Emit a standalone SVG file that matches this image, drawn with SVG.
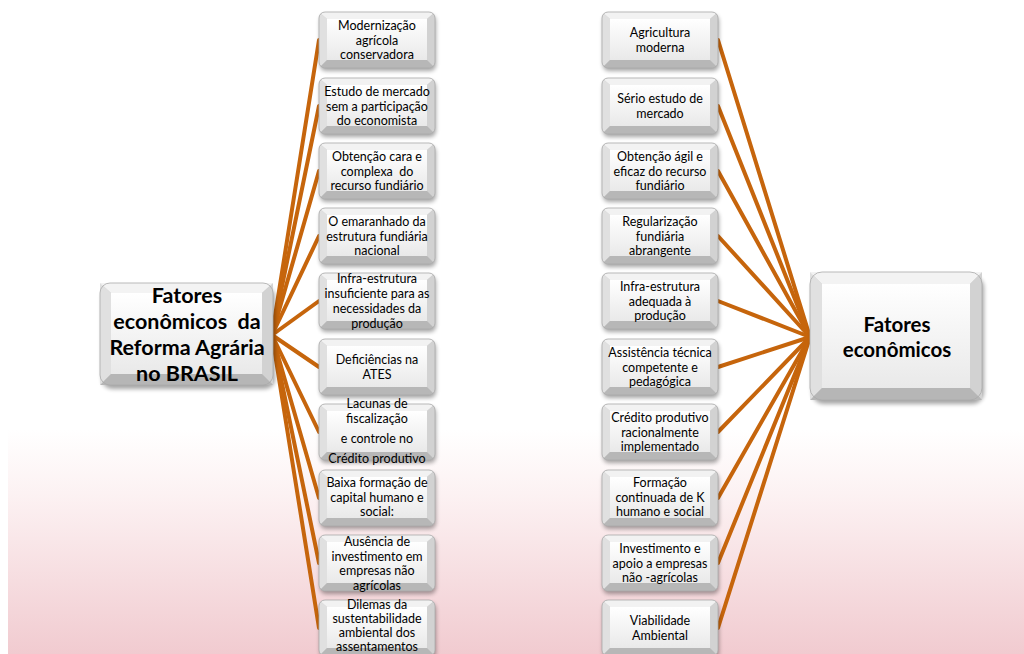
<svg xmlns="http://www.w3.org/2000/svg" xmlns:xlink="http://www.w3.org/1999/xlink" width="1024" height="654" viewBox="0 0 1024 654">
  <style>
    .t { font-family: Lato, "Liberation Sans", sans-serif; font-size: 12.5px; fill: #000; text-anchor: middle; white-space: pre; }
    .big { font-family: Lato, "Liberation Sans", sans-serif; font-size: 21.5px; font-weight: bold; fill: #000; text-anchor: middle; white-space: pre; }
    .big2 { font-family: Lato, "Liberation Sans", sans-serif; font-size: 20.5px; font-weight: bold; fill: #000; text-anchor: middle; }
    .link { stroke: #c6650c; stroke-width: 4; fill: none; stroke-linecap: round; }
  </style>
  <defs>
    <linearGradient id="bg" x1="0" y1="0" x2="0" y2="1">
      <stop offset="0" stop-color="#ffffff"/>
      <stop offset="0.3" stop-color="#fcf1f2"/>
      <stop offset="1" stop-color="#f1cbd0"/>
    </linearGradient>
    <linearGradient id="face" x1="0" y1="0" x2="0" y2="1">
      <stop offset="0" stop-color="#ffffff"/>
      <stop offset="1" stop-color="#e9e9e9"/>
    </linearGradient>
    <filter id="sh" x="-20%" y="-20%" width="140%" height="150%">
      <feGaussianBlur stdDeviation="2"/>
    </filter>
    <clipPath id="tileClip"><rect width="116" height="56" rx="6"/></clipPath>
    <!-- bevelled tile used by every small node -->
    <symbol id="tile" overflow="visible">
      <rect x="1" y="3" width="116" height="56" rx="6" fill="#000" opacity="0.35" filter="url(#sh)"/>
      <g clip-path="url(#tileClip)">
        <rect width="116" height="56" fill="#cfcfcf"/>
        <polygon points="0,0 116,0 108,7 8,7" fill="#f2f2f2"/>
        <polygon points="0,0 8,7 8,48 0,56" fill="#e0e0e0"/>
        <polygon points="116,0 108,7 108,48 116,56" fill="#d2d2d2"/>
        <polygon points="0,56 8,48 108,48 116,56" fill="#b7b7b7"/>
        <rect x="8" y="7" width="100" height="41" fill="url(#face)"/>
      </g>
      <rect width="116" height="56" rx="6" fill="none" stroke="#a9a9a9" stroke-width="0.8"/>
    </symbol>
  </defs>

  <!-- page background -->
  <rect width="1024" height="654" fill="#ffffff"/>
  <rect x="8" y="430" width="1016" height="224" fill="url(#bg)"/>

  <!-- connectors -->
  <g id="connectors">
    <path class="link" d="M272 335L319 40"/>
    <path class="link" d="M272 335L319 106"/>
    <path class="link" d="M272 335L319 171"/>
    <path class="link" d="M272 335L319 236"/>
    <path class="link" d="M272 335L319 301"/>
    <path class="link" d="M272 335L319 367"/>
    <path class="link" d="M272 335L319 432"/>
    <path class="link" d="M272 335L319 498"/>
    <path class="link" d="M272 335L319 563"/>
    <path class="link" d="M272 335L319 628"/>
    <path class="link" d="M718 40L810 337"/>
    <path class="link" d="M718 106L810 337"/>
    <path class="link" d="M718 171L810 337"/>
    <path class="link" d="M718 236L810 337"/>
    <path class="link" d="M718 301L810 337"/>
    <path class="link" d="M718 367L810 337"/>
    <path class="link" d="M718 432L810 337"/>
    <path class="link" d="M718 498L810 337"/>
    <path class="link" d="M718 563L810 337"/>
    <path class="link" d="M718 628L810 337"/>
  </g>

  <!-- left hub -->
  <g id="hub-left">
    <rect x="102" y="287" width="173" height="102" rx="10" fill="#000" opacity="0.35" filter="url(#sh)"/>
    <rect x="100" y="283" width="173" height="102" rx="10" fill="#cdcdcd"/>
    <polygon points="100,283 273,283 262,293 111,293" fill="#f3f3f3"/>
    <polygon points="100,283 111,293 111,374 100,385" fill="#e0e0e0"/>
    <polygon points="273,283 262,293 262,374 273,385" fill="#d2d2d2"/>
    <polygon points="100,385 111,374 262,374 273,385" fill="#b6b6b6"/>
    <rect x="111" y="293" width="151" height="81" fill="url(#face)"/>
    <rect x="100" y="283" width="173" height="102" rx="10" fill="none" stroke="#a9a9a9" stroke-width="0.8"/>
    <text class="big" x="187" y="303">Fatores</text>
    <text class="big" x="187" y="329">econômicos  da</text>
    <text class="big" x="187" y="355">Reforma Agrária</text>
    <text class="big" x="187" y="381">no BRASIL</text>
  </g>

  <!-- right hub -->
  <g id="hub-right">
    <rect x="812" y="276" width="172" height="128" rx="12" fill="#000" opacity="0.35" filter="url(#sh)"/>
    <rect x="810" y="272" width="172" height="128" rx="12" fill="#cdcdcd"/>
    <polygon points="810,272 982,272 970,284 822,284" fill="#f3f3f3"/>
    <polygon points="810,272 822,284 822,388 810,400" fill="#e0e0e0"/>
    <polygon points="982,272 970,284 970,388 982,400" fill="#d2d2d2"/>
    <polygon points="810,400 822,388 970,388 982,400" fill="#b6b6b6"/>
    <rect x="822" y="284" width="148" height="104" fill="url(#face)"/>
    <rect x="810" y="272" width="172" height="128" rx="12" fill="none" stroke="#a9a9a9" stroke-width="0.8"/>
    <text class="big2" x="897" y="332">Fatores</text>
    <text class="big2" x="897" y="357">econômicos</text>
  </g>

  <!-- left column -->
  <g id="l1" transform="translate(319 12)"><use href="#tile"/>
    <text class="t" x="58" y="18">Modernização</text><text class="t" x="58" y="32.5">agrícola</text><text class="t" x="58" y="47">conservadora</text></g>
  <g id="l2" transform="translate(319 78)"><use href="#tile"/>
    <text class="t" x="58" y="18">Estudo de mercado</text><text class="t" x="58" y="32.5">sem a participação</text><text class="t" x="58" y="47">do economista</text></g>
  <g id="l3" transform="translate(319 143)"><use href="#tile"/>
    <text class="t" x="58" y="18">Obtenção cara e</text><text class="t" x="58" y="32.5">complexa  do</text><text class="t" x="58" y="47">recurso fundiário</text></g>
  <g id="l4" transform="translate(319 208)"><use href="#tile"/>
    <text class="t" x="58" y="18">O emaranhado da</text><text class="t" x="58" y="32.5">estrutura fundiária</text><text class="t" x="58" y="47">nacional</text></g>
  <g id="l5" transform="translate(319 273)"><use href="#tile"/>
    <text class="t" x="58" y="10">Infra-estrutura</text><text class="t" x="58" y="25">insuficiente para as</text><text class="t" x="58" y="40">necessidades da</text><text class="t" x="58" y="55">produção</text></g>
  <g id="l6" transform="translate(319 339)"><use href="#tile"/>
    <text class="t" x="58" y="24.5">Deficiências na</text><text class="t" x="58" y="39.5">ATES</text></g>
  <g id="l7" transform="translate(319 404)"><use href="#tile"/>
    <text class="t" x="58" y="4">Lacunas de</text><text class="t" x="58" y="19">fiscalização</text><text class="t" x="58" y="39">e controle no</text><text class="t" x="58" y="59">Crédito produtivo</text></g>
  <g id="l8" transform="translate(319 470)"><use href="#tile"/>
    <text class="t" x="58" y="17">Baixa formação de</text><text class="t" x="58" y="31.5">capital humano e</text><text class="t" x="58" y="46">social:</text></g>
  <g id="l9" transform="translate(319 535)"><use href="#tile"/>
    <text class="t" x="58" y="11">Ausência de</text><text class="t" x="58" y="25.5">investimento em</text><text class="t" x="58" y="40">empresas não</text><text class="t" x="58" y="54.5">agrícolas</text></g>
  <g id="l10" transform="translate(319 600)"><use href="#tile"/>
    <text class="t" x="58" y="9">Dilemas da</text><text class="t" x="58" y="23">sustentabilidade</text><text class="t" x="58" y="37">ambiental dos</text><text class="t" x="58" y="51">assentamentos</text></g>

  <!-- right column -->
  <g id="r1" transform="translate(602 12)"><use href="#tile"/>
    <text class="t" x="58" y="25">Agricultura</text><text class="t" x="58" y="39.5">moderna</text></g>
  <g id="r2" transform="translate(602 78)"><use href="#tile"/>
    <text class="t" x="58" y="25">Sério estudo de</text><text class="t" x="58" y="39.5">mercado</text></g>
  <g id="r3" transform="translate(602 143)"><use href="#tile"/>
    <text class="t" x="58" y="18">Obtenção ágil e</text><text class="t" x="58" y="32.5">eficaz do recurso</text><text class="t" x="58" y="47">fundiário</text></g>
  <g id="r4" transform="translate(602 208)"><use href="#tile"/>
    <text class="t" x="58" y="18">Regularização</text><text class="t" x="58" y="32.5">fundiária</text><text class="t" x="58" y="47">abrangente</text></g>
  <g id="r5" transform="translate(602 273)"><use href="#tile"/>
    <text class="t" x="58" y="18">Infra-estrutura</text><text class="t" x="58" y="32.5">adequada à</text><text class="t" x="58" y="47">produção</text></g>
  <g id="r6" transform="translate(602 339)"><use href="#tile"/>
    <text class="t" x="58" y="18">Assistência técnica</text><text class="t" x="58" y="32.5">competente e</text><text class="t" x="58" y="47">pedagógica</text></g>
  <g id="r7" transform="translate(602 404)"><use href="#tile"/>
    <text class="t" x="58" y="18">Crédito produtivo</text><text class="t" x="58" y="32.5">racionalmente</text><text class="t" x="58" y="47">implementado</text></g>
  <g id="r8" transform="translate(602 470)"><use href="#tile"/>
    <text class="t" x="58" y="17">Formação</text><text class="t" x="58" y="31.5">continuada de K</text><text class="t" x="58" y="46">humano e social</text></g>
  <g id="r9" transform="translate(602 535)"><use href="#tile"/>
    <text class="t" x="58" y="18">Investimento e</text><text class="t" x="58" y="32.5">apoio a empresas</text><text class="t" x="58" y="47">não -agrícolas</text></g>
  <g id="r10" transform="translate(602 600)"><use href="#tile"/>
    <text class="t" x="58" y="25">Viabilidade</text><text class="t" x="58" y="39.5">Ambiental</text></g>
</svg>
